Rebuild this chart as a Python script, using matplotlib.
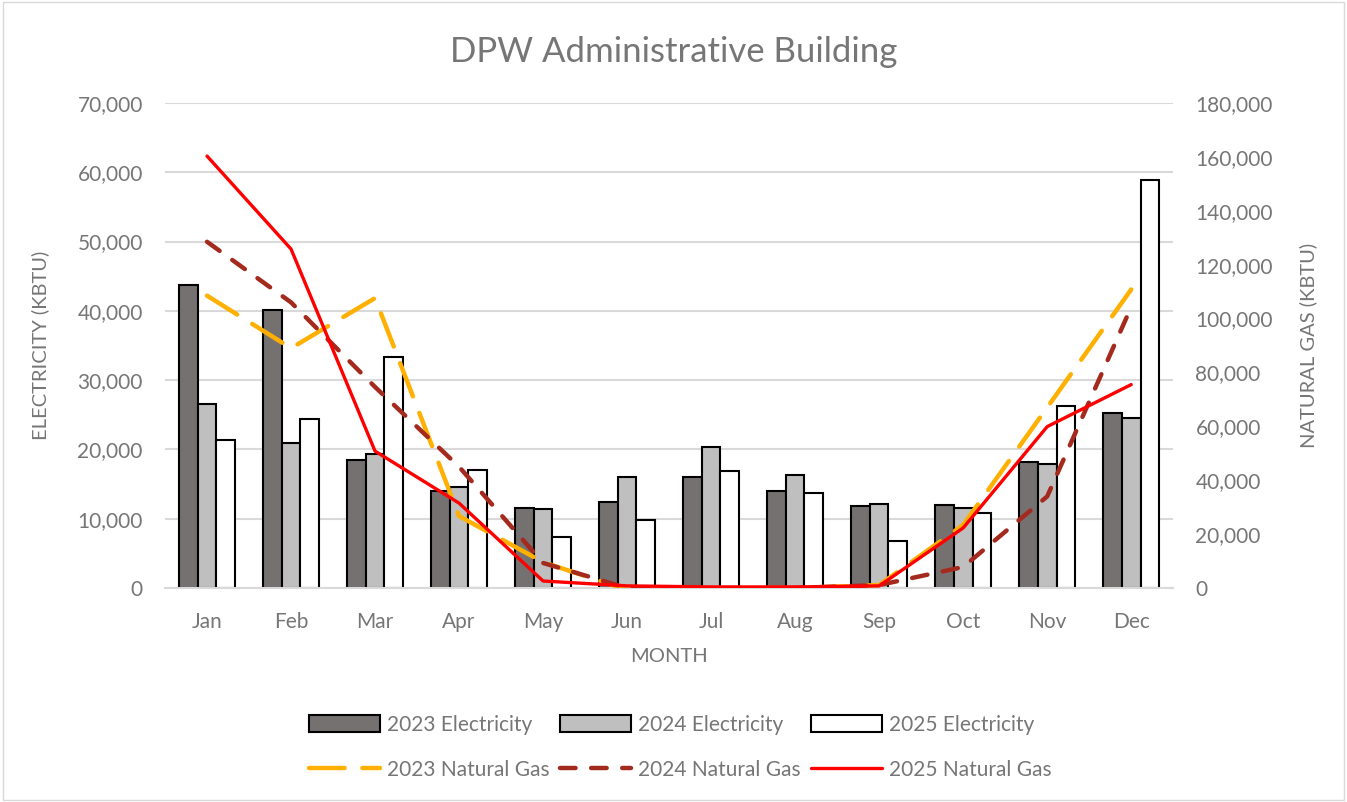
import matplotlib.pyplot as plt
import numpy as np
from matplotlib.patches import Rectangle

plt.rcParams['font.family'] = ['Lato', 'DejaVu Sans']

months = ["Jan", "Feb", "Mar", "Apr", "May", "Jun", "Jul", "Aug", "Sep", "Oct", "Nov", "Dec"]

elec_2023 = [43800, 40100, 18500, 14000, 11550, 12400, 16050, 14000, 11850, 12000, 18200, 25250]
elec_2024 = [26550, 20950, 19350, 14600, 11400, 16000, 20350, 16300, 12150, 11550, 17900, 24500]
elec_2025 = [21350, 24400, 33300, 17000, 7350, 9800, 16900, 13700, 6800, 10850, 26250, 58900]

gas_2023 = [108500, 89000, 107600, 26700, 9600, -700, 0, 0, 1100, 23400, 67000, 110800]
gas_2024 = [128500, 106000, 74600, 45000, 9300, 0, -300, 0, 1100, 7800, 34000, 104300]
gas_2025 = [160300, 125800, 50800, 31500, 2600, 800, 400, 400, 800, 22300, 59900, 75500]

grey_txt = "#767676"
x = np.arange(len(months))
w = 0.222

fig = plt.figure(figsize=(13.47, 8.02), dpi=100)
fig.add_artist(Rectangle((0.002, 0.002), 0.996, 0.996, transform=fig.transFigure,
                         fill=False, edgecolor="#D9D9D9", linewidth=1))

ax = fig.add_axes([0.1225, 0.2668, 0.7485, 0.6048])
ax2 = ax.twinx()

b1 = ax.bar(x - w, elec_2023, w, color="#767171", edgecolor="black", linewidth=1.5, zorder=2)
b2 = ax.bar(x, elec_2024, w, color="#BFBFBF", edgecolor="black", linewidth=1.5, zorder=2)
b3 = ax.bar(x + w, elec_2025, w, color="white", edgecolor="black", linewidth=1.5, zorder=2)

l1, = ax2.plot(x, gas_2023, color="#FFB000", lw=3.2, dashes=(8, 4), dash_capstyle="round")
l2, = ax2.plot(x, gas_2024, color="#A52A1E", lw=3.2, dashes=(3.5, 3.5), dash_capstyle="round")
l3, = ax2.plot(x, gas_2025, color="#FF0000", lw=2.4, solid_capstyle="round")

ax.set_ylim(0, 70000)
ax2.set_ylim(0, 180000)
ax.set_xlim(-0.5, 11.5)
ax.set_yticks(np.arange(0, 70001, 10000))
ax2.set_yticks(np.arange(0, 180001, 20000))
ax.yaxis.set_major_formatter(plt.FuncFormatter(lambda v, p: f"{int(v):,}"))
ax2.yaxis.set_major_formatter(plt.FuncFormatter(lambda v, p: f"{int(v):,}"))
ax.set_xticks(x)
ax.set_xticklabels(months)

ax.grid(axis="y", color="#D9D9D9", linewidth=1.5, zorder=0)
ax.set_axisbelow(True)
for a in (ax, ax2):
    for s in a.spines.values():
        s.set_visible(False)
    a.tick_params(length=0, labelsize=15, labelcolor=grey_txt, pad=16)
ax.spines["bottom"].set_visible(True)
ax.spines["bottom"].set_color("#D9D9D9")
ax.spines["bottom"].set_linewidth(1.5)
ax.tick_params(axis="x", pad=17)

ax.set_ylabel("ELECTRICITY (KBTU)", fontsize=14.5, color=grey_txt, labelpad=20)
ax2.set_ylabel("NATURAL GAS (KBTU)", fontsize=14.5, color=grey_txt, labelpad=19)
ax.set_xlabel("MONTH", fontsize=14.5, color=grey_txt, labelpad=12)
fig.suptitle("DPW Administrative Building", fontsize=25, color=grey_txt, y=0.955)

handles = [b1, l1, b2, l2, b3, l3]
labels = ["2023 Electricity", "2023 Natural Gas", "2024 Electricity",
          "2024 Natural Gas", "2025 Electricity", "2025 Natural Gas"]
leg = fig.legend(handles, labels, ncol=3, loc="center", bbox_to_anchor=(0.505, 0.068),
                 frameon=False, fontsize=15, labelcolor=grey_txt, handlelength=3.4,
                 handleheight=0.85, columnspacing=0.5, handletextpad=0.35, labelspacing=1.2)

fig.savefig("out.png", dpi=100)
